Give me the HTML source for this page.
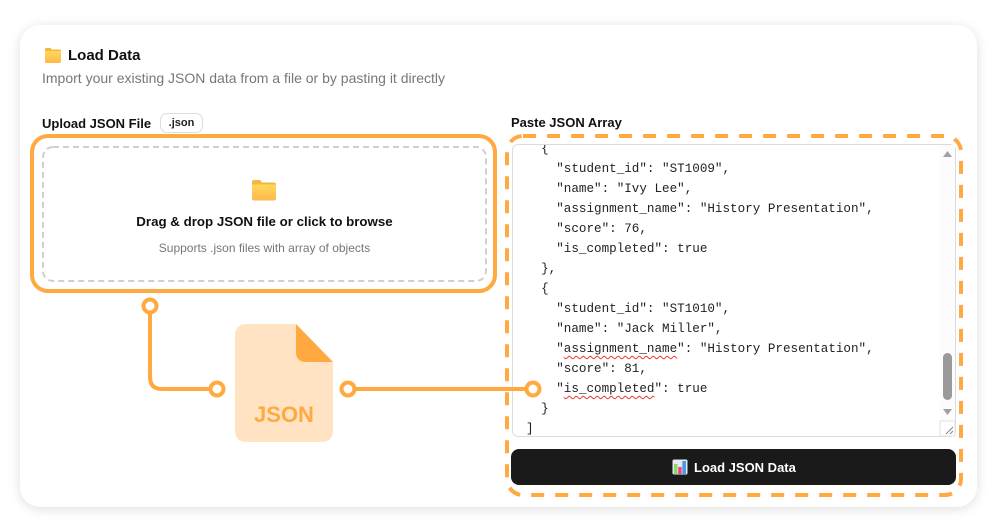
<!DOCTYPE html>
<html><head><meta charset="utf-8">
<style>
html,body{margin:0;padding:0;background:#fff;width:996px;height:531px;overflow:hidden;font-family:"Liberation Sans",Arial,sans-serif;}
.card{position:absolute;left:20px;top:25px;width:957px;height:482px;background:#fff;border-radius:20px;box-shadow:0 2px 12px rgba(0,0,0,.13);}
.abs{position:absolute;white-space:nowrap;}
.code{position:absolute;left:512px;top:144px;width:442px;height:291px;border:1px solid #dcdcdc;border-radius:6px;overflow:hidden;background:#fff;}
.code pre{position:absolute;left:13px;top:-6px;margin:0;font-family:"Liberation Mono","DejaVu Sans Mono",monospace;font-size:12.6px;line-height:20px;color:#222;}
.sq{text-decoration:underline wavy #e53935;text-decoration-thickness:1px;text-underline-offset:3px;}
.btn{position:absolute;left:511px;top:449px;width:445px;height:36px;background:#1a1a1a;border-radius:8px;}
</style></head><body>
<div class="card"></div>

<!-- header -->
<svg class="abs" style="left:44px;top:46px" width="18" height="18" viewBox="0 0 18 18">
<defs><linearGradient id="fg" x1="0" y1="0" x2="0" y2="1"><stop offset="0" stop-color="#FFD95A"/><stop offset="1" stop-color="#FFB84D"/></linearGradient></defs>
<path d="M1 3.5 Q1 2 2.5 2 H6.5 L8 3.5 H15.5 Q17 3.5 17 5 V6 H1Z" fill="#F5B640"/>
<rect x="1" y="5" width="16" height="12" rx="1.5" fill="url(#fg)"/>
</svg>
<div class="abs" style="left:68px;top:47px;font-size:15px;font-weight:bold;color:#111;">Load Data</div>
<div class="abs" style="left:42px;top:70px;font-size:14px;color:#777;">Import your existing JSON data from a file or by pasting it directly</div>

<div class="abs" style="left:42px;top:116px;font-size:13px;font-weight:bold;color:#111;">Upload JSON File</div>
<div class="abs" style="left:160px;top:113px;width:43px;height:20px;border:1px solid #ddd;border-radius:7px;box-sizing:border-box;font-size:11px;font-weight:bold;color:#222;text-align:center;line-height:19px;">.json</div>

<div class="abs" style="left:511px;top:115px;font-size:13px;font-weight:bold;color:#111;">Paste JSON Array</div>

<!-- drop zone -->
<svg class="abs" style="left:0;top:0" width="996" height="531">
<rect x="43" y="147" width="443" height="134" rx="10" fill="none" stroke="#cfcfcf" stroke-width="2" stroke-dasharray="6 4"/>
<rect x="32" y="136" width="463" height="155" rx="16" fill="none" stroke="#FFA940" stroke-width="4"/>
</svg>
<svg class="abs" style="left:251px;top:178px" width="26" height="24" viewBox="0 0 26 24">
<defs><linearGradient id="fg2" x1="0" y1="0" x2="0" y2="1"><stop offset="0" stop-color="#FFD95A"/><stop offset="1" stop-color="#FFB84D"/></linearGradient></defs>
<path d="M1 4 Q1 2 3 2 H9 L11 4.5 H23 Q25 4.5 25 6.5 V8 H1Z" fill="#F5B640"/>
<rect x="1" y="6.5" width="24" height="16" rx="2" fill="url(#fg2)"/>
</svg>
<div class="abs" style="left:43px;width:443px;top:214px;text-align:center;font-size:13.3px;font-weight:bold;color:#111;">Drag &amp; drop JSON file or click to browse</div>
<div class="abs" style="left:43px;width:443px;top:241px;text-align:center;font-size:12px;color:#777;">Supports .json files with array of objects</div>

<!-- textarea -->
<div class="code"><pre>  {
    "student_id": "ST1009",
    "name": "Ivy Lee",
    "assignment_name": "History Presentation",
    "score": 76,
    "is_completed": true
  },
  {
    "student_id": "ST1010",
    "name": "Jack Miller",
    "<span class="sq">assignment_name</span>": "History Presentation",
    "score": 81,
    "<span class="sq">is_completed</span>": true
  }
]</pre></div>
<svg class="abs" style="left:0;top:0" width="996" height="531">
<rect x="940" y="145" width="15" height="277" fill="#fcfcfc"/>
<path d="M943 157 L947.5 151 L952 157Z" fill="#a0a0a0"/>
<rect x="943" y="353" width="9" height="47" rx="4.5" fill="#9a9a9a"/>
<path d="M943 409 L947.5 415 L952 409Z" fill="#a0a0a0"/>
<rect x="940" y="421" width="15" height="15" fill="#fff" stroke="#e2e2e2" stroke-width="1"/>
<path d="M946 434 L953 427 M950 434 L953 431" stroke="#888" stroke-width="1"/>
</svg>

<!-- button -->
<div class="btn"></div>
<svg class="abs" style="left:672px;top:459px" width="16" height="16" viewBox="0 0 16 16">
<rect x="0.5" y="0.5" width="15" height="15" rx="1.5" fill="#e8e8ee"/>
<rect x="2" y="5" width="3.5" height="10" fill="#8BD86A"/>
<rect x="6.2" y="8" width="3.5" height="7" fill="#F0467C"/>
<rect x="10.4" y="2" width="3.5" height="13" fill="#3B9BEF"/>
</svg>
<div class="abs" style="left:694px;top:460px;font-size:13px;font-weight:bold;color:#fff;">Load JSON Data</div>

<!-- JSON file icon -->
<svg class="abs" style="left:0;top:0" width="996" height="531">
<path d="M247 324 H296 L333 362 V430 Q333 442 321 442 H247 Q235 442 235 430 V336 Q235 324 247 324Z" fill="#FFE3C2"/>
<path d="M296 324 L333 362 H306 Q296 362 296 352Z" fill="#FFA940"/>
<text x="284" y="422" text-anchor="middle" font-family="Liberation Sans, Arial, sans-serif" font-weight="bold" font-size="22" fill="#FFA940">JSON</text>
</svg>

<!-- dashed orange group + connectors -->
<svg class="abs" style="left:0;top:0" width="996" height="531">
<rect x="507" y="136" width="454" height="359" rx="16" fill="none" stroke="#FFA940" stroke-width="4" stroke-dasharray="13 11"/>
<path d="M150 306 V377 Q150 389 162 389 H217" fill="none" stroke="#FFA940" stroke-width="4"/>
<path d="M348 389 H533" fill="none" stroke="#FFA940" stroke-width="4"/>
<circle cx="150" cy="306" r="6.5" fill="#fff" stroke="#FFA940" stroke-width="4"/>
<circle cx="217" cy="389" r="6.5" fill="#fff" stroke="#FFA940" stroke-width="4"/>
<circle cx="348" cy="389" r="6.5" fill="#fff" stroke="#FFA940" stroke-width="4"/>
<circle cx="533" cy="389" r="6.5" fill="#fff" stroke="#FFA940" stroke-width="4"/>
</svg>
</body></html>
